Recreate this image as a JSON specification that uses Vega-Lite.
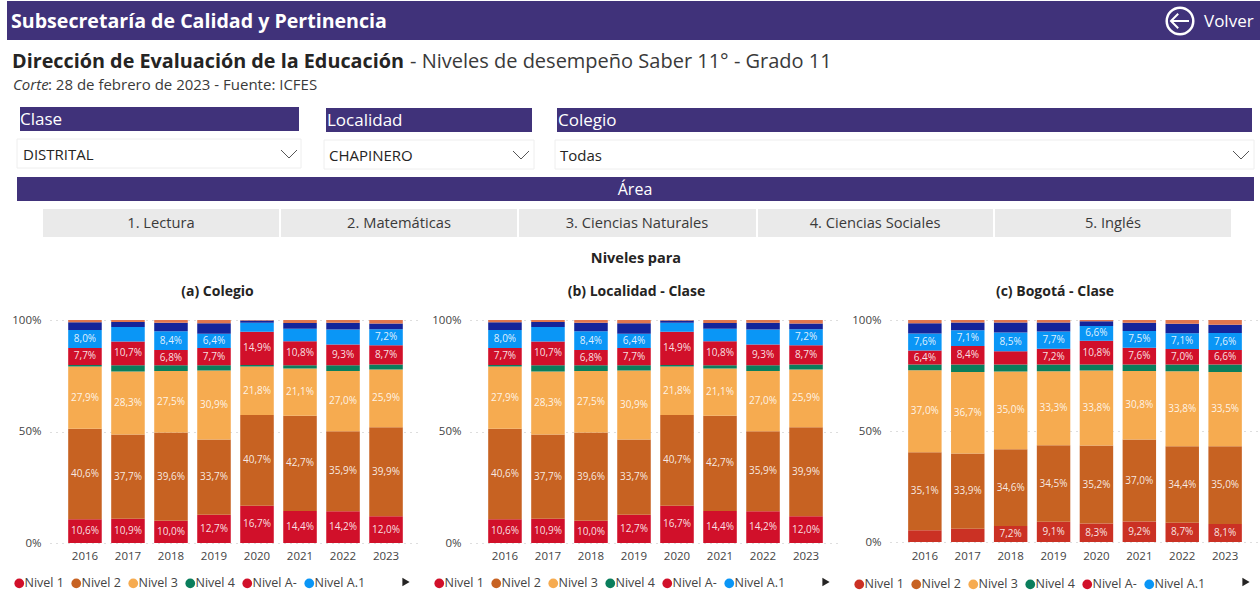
{
"$schema":"https://vega.github.io/schema/vega-lite/v6.json",
"padding":0,
"background":"white",
"bounds":"flush",
"spacing":0,
"config":{"view":{"stroke":null},"font":"Open Sans","concat":{"spacing":0}},
"datasets":{
"colegio":[
{"anio":"2016","nivel":"Nivel 1","valor":10.6,"etiqueta":"10,6%"},{"anio":"2016","nivel":"Nivel 2","valor":40.6,"etiqueta":"40,6%"},{"anio":"2016","nivel":"Nivel 3","valor":27.9,"etiqueta":"27,9%"},{"anio":"2016","nivel":"Nivel 4","valor":0.7,"etiqueta":""},{"anio":"2016","nivel":"Nivel A-","valor":7.7,"etiqueta":"7,7%"},{"anio":"2016","nivel":"Nivel A.1","valor":8.0,"etiqueta":"8,0%"},{"anio":"2016","nivel":"Nivel A.2","valor":3.5,"etiqueta":""},{"anio":"2016","nivel":"Nivel B.1","valor":1.0,"etiqueta":""},
{"anio":"2017","nivel":"Nivel 1","valor":10.9,"etiqueta":"10,9%"},{"anio":"2017","nivel":"Nivel 2","valor":37.7,"etiqueta":"37,7%"},{"anio":"2017","nivel":"Nivel 3","valor":28.3,"etiqueta":"28,3%"},{"anio":"2017","nivel":"Nivel 4","valor":2.8,"etiqueta":""},{"anio":"2017","nivel":"Nivel A-","valor":10.7,"etiqueta":"10,7%"},{"anio":"2017","nivel":"Nivel A.1","valor":6.5,"etiqueta":""},{"anio":"2017","nivel":"Nivel A.2","valor":2.2,"etiqueta":""},{"anio":"2017","nivel":"Nivel B.1","valor":0.9,"etiqueta":""},
{"anio":"2018","nivel":"Nivel 1","valor":10.0,"etiqueta":"10,0%"},{"anio":"2018","nivel":"Nivel 2","valor":39.6,"etiqueta":"39,6%"},{"anio":"2018","nivel":"Nivel 3","valor":27.5,"etiqueta":"27,5%"},{"anio":"2018","nivel":"Nivel 4","valor":2.6,"etiqueta":""},{"anio":"2018","nivel":"Nivel A-","valor":6.8,"etiqueta":"6,8%"},{"anio":"2018","nivel":"Nivel A.1","valor":8.4,"etiqueta":"8,4%"},{"anio":"2018","nivel":"Nivel A.2","valor":3.9,"etiqueta":""},{"anio":"2018","nivel":"Nivel B.1","valor":1.2,"etiqueta":""},
{"anio":"2019","nivel":"Nivel 1","valor":12.7,"etiqueta":"12,7%"},{"anio":"2019","nivel":"Nivel 2","valor":33.7,"etiqueta":"33,7%"},{"anio":"2019","nivel":"Nivel 3","valor":30.9,"etiqueta":"30,9%"},{"anio":"2019","nivel":"Nivel 4","valor":2.4,"etiqueta":""},{"anio":"2019","nivel":"Nivel A-","valor":7.7,"etiqueta":"7,7%"},{"anio":"2019","nivel":"Nivel A.1","valor":6.4,"etiqueta":"6,4%"},{"anio":"2019","nivel":"Nivel A.2","valor":4.7,"etiqueta":""},{"anio":"2019","nivel":"Nivel B.1","valor":1.5,"etiqueta":""},
{"anio":"2020","nivel":"Nivel 1","valor":16.7,"etiqueta":"16,7%"},{"anio":"2020","nivel":"Nivel 2","valor":40.7,"etiqueta":"40,7%"},{"anio":"2020","nivel":"Nivel 3","valor":21.8,"etiqueta":"21,8%"},{"anio":"2020","nivel":"Nivel 4","valor":0.6,"etiqueta":""},{"anio":"2020","nivel":"Nivel A-","valor":14.9,"etiqueta":"14,9%"},{"anio":"2020","nivel":"Nivel A.1","valor":4.1,"etiqueta":""},{"anio":"2020","nivel":"Nivel A.2","valor":1.0,"etiqueta":""},{"anio":"2020","nivel":"Nivel B.1","valor":0.2,"etiqueta":""},
{"anio":"2021","nivel":"Nivel 1","valor":14.4,"etiqueta":"14,4%"},{"anio":"2021","nivel":"Nivel 2","valor":42.7,"etiqueta":"42,7%"},{"anio":"2021","nivel":"Nivel 3","valor":21.1,"etiqueta":"21,1%"},{"anio":"2021","nivel":"Nivel 4","valor":1.5,"etiqueta":""},{"anio":"2021","nivel":"Nivel A-","valor":10.8,"etiqueta":"10,8%"},{"anio":"2021","nivel":"Nivel A.1","valor":5.6,"etiqueta":""},{"anio":"2021","nivel":"Nivel A.2","valor":2.6,"etiqueta":""},{"anio":"2021","nivel":"Nivel B.1","valor":1.3,"etiqueta":""},
{"anio":"2022","nivel":"Nivel 1","valor":14.2,"etiqueta":"14,2%"},{"anio":"2022","nivel":"Nivel 2","valor":35.9,"etiqueta":"35,9%"},{"anio":"2022","nivel":"Nivel 3","valor":27.0,"etiqueta":"27,0%"},{"anio":"2022","nivel":"Nivel 4","valor":2.6,"etiqueta":""},{"anio":"2022","nivel":"Nivel A-","valor":9.3,"etiqueta":"9,3%"},{"anio":"2022","nivel":"Nivel A.1","valor":6.7,"etiqueta":""},{"anio":"2022","nivel":"Nivel A.2","valor":3.1,"etiqueta":""},{"anio":"2022","nivel":"Nivel B.1","valor":1.2,"etiqueta":""},
{"anio":"2023","nivel":"Nivel 1","valor":12.0,"etiqueta":"12,0%"},{"anio":"2023","nivel":"Nivel 2","valor":39.9,"etiqueta":"39,9%"},{"anio":"2023","nivel":"Nivel 3","valor":25.9,"etiqueta":"25,9%"},{"anio":"2023","nivel":"Nivel 4","valor":2.2,"etiqueta":""},{"anio":"2023","nivel":"Nivel A-","valor":8.7,"etiqueta":"8,7%"},{"anio":"2023","nivel":"Nivel A.1","valor":7.2,"etiqueta":"7,2%"},{"anio":"2023","nivel":"Nivel A.2","valor":2.5,"etiqueta":""},{"anio":"2023","nivel":"Nivel B.1","valor":1.6,"etiqueta":""}
],
"bogota":[
{"anio":"2016","nivel":"Nivel 1","valor":5.3,"etiqueta":""},{"anio":"2016","nivel":"Nivel 2","valor":35.1,"etiqueta":"35,1%"},{"anio":"2016","nivel":"Nivel 3","valor":37.0,"etiqueta":"37,0%"},{"anio":"2016","nivel":"Nivel 4","valor":2.5,"etiqueta":""},{"anio":"2016","nivel":"Nivel A-","valor":6.4,"etiqueta":"6,4%"},{"anio":"2016","nivel":"Nivel A.1","valor":7.6,"etiqueta":"7,6%"},{"anio":"2016","nivel":"Nivel A.2","valor":4.6,"etiqueta":""},{"anio":"2016","nivel":"Nivel B.1","valor":1.5,"etiqueta":""},
{"anio":"2017","nivel":"Nivel 1","valor":6.0,"etiqueta":""},{"anio":"2017","nivel":"Nivel 2","valor":33.9,"etiqueta":"33,9%"},{"anio":"2017","nivel":"Nivel 3","valor":36.7,"etiqueta":"36,7%"},{"anio":"2017","nivel":"Nivel 4","valor":3.3,"etiqueta":""},{"anio":"2017","nivel":"Nivel A-","valor":8.4,"etiqueta":"8,4%"},{"anio":"2017","nivel":"Nivel A.1","valor":7.1,"etiqueta":"7,1%"},{"anio":"2017","nivel":"Nivel A.2","valor":3.5,"etiqueta":""},{"anio":"2017","nivel":"Nivel B.1","valor":1.1,"etiqueta":""},
{"anio":"2018","nivel":"Nivel 1","valor":7.2,"etiqueta":"7,2%"},{"anio":"2018","nivel":"Nivel 2","valor":34.6,"etiqueta":"34,6%"},{"anio":"2018","nivel":"Nivel 3","valor":35.0,"etiqueta":"35,0%"},{"anio":"2018","nivel":"Nivel 4","valor":3.1,"etiqueta":""},{"anio":"2018","nivel":"Nivel A-","valor":6.0,"etiqueta":""},{"anio":"2018","nivel":"Nivel A.1","valor":8.5,"etiqueta":"8,5%"},{"anio":"2018","nivel":"Nivel A.2","valor":4.5,"etiqueta":""},{"anio":"2018","nivel":"Nivel B.1","valor":1.1,"etiqueta":""},
{"anio":"2019","nivel":"Nivel 1","valor":9.1,"etiqueta":"9,1%"},{"anio":"2019","nivel":"Nivel 2","valor":34.5,"etiqueta":"34,5%"},{"anio":"2019","nivel":"Nivel 3","valor":33.3,"etiqueta":"33,3%"},{"anio":"2019","nivel":"Nivel 4","valor":3.0,"etiqueta":""},{"anio":"2019","nivel":"Nivel A-","valor":7.2,"etiqueta":"7,2%"},{"anio":"2019","nivel":"Nivel A.1","valor":7.7,"etiqueta":"7,7%"},{"anio":"2019","nivel":"Nivel A.2","valor":4.1,"etiqueta":""},{"anio":"2019","nivel":"Nivel B.1","valor":1.1,"etiqueta":""},
{"anio":"2020","nivel":"Nivel 1","valor":8.3,"etiqueta":"8,3%"},{"anio":"2020","nivel":"Nivel 2","valor":35.2,"etiqueta":"35,2%"},{"anio":"2020","nivel":"Nivel 3","valor":33.8,"etiqueta":"33,8%"},{"anio":"2020","nivel":"Nivel 4","valor":2.6,"etiqueta":""},{"anio":"2020","nivel":"Nivel A-","valor":10.8,"etiqueta":"10,8%"},{"anio":"2020","nivel":"Nivel A.1","valor":6.6,"etiqueta":"6,6%"},{"anio":"2020","nivel":"Nivel A.2","valor":2.1,"etiqueta":""},{"anio":"2020","nivel":"Nivel B.1","valor":0.6,"etiqueta":""},
{"anio":"2021","nivel":"Nivel 1","valor":9.2,"etiqueta":"9,2%"},{"anio":"2021","nivel":"Nivel 2","valor":37.0,"etiqueta":"37,0%"},{"anio":"2021","nivel":"Nivel 3","valor":30.8,"etiqueta":"30,8%"},{"anio":"2021","nivel":"Nivel 4","valor":2.9,"etiqueta":""},{"anio":"2021","nivel":"Nivel A-","valor":7.6,"etiqueta":"7,6%"},{"anio":"2021","nivel":"Nivel A.1","valor":7.5,"etiqueta":"7,5%"},{"anio":"2021","nivel":"Nivel A.2","valor":3.8,"etiqueta":""},{"anio":"2021","nivel":"Nivel B.1","valor":1.2,"etiqueta":""},
{"anio":"2022","nivel":"Nivel 1","valor":8.7,"etiqueta":"8,7%"},{"anio":"2022","nivel":"Nivel 2","valor":34.4,"etiqueta":"34,4%"},{"anio":"2022","nivel":"Nivel 3","valor":33.8,"etiqueta":"33,8%"},{"anio":"2022","nivel":"Nivel 4","valor":3.0,"etiqueta":""},{"anio":"2022","nivel":"Nivel A-","valor":7.0,"etiqueta":"7,0%"},{"anio":"2022","nivel":"Nivel A.1","valor":7.1,"etiqueta":"7,1%"},{"anio":"2022","nivel":"Nivel A.2","valor":4.3,"etiqueta":""},{"anio":"2022","nivel":"Nivel B.1","valor":1.7,"etiqueta":""},
{"anio":"2023","nivel":"Nivel 1","valor":8.1,"etiqueta":"8,1%"},{"anio":"2023","nivel":"Nivel 2","valor":35.0,"etiqueta":"35,0%"},{"anio":"2023","nivel":"Nivel 3","valor":33.5,"etiqueta":"33,5%"},{"anio":"2023","nivel":"Nivel 4","valor":3.3,"etiqueta":""},{"anio":"2023","nivel":"Nivel A-","valor":6.6,"etiqueta":"6,6%"},{"anio":"2023","nivel":"Nivel A.1","valor":7.6,"etiqueta":"7,6%"},{"anio":"2023","nivel":"Nivel A.2","valor":3.8,"etiqueta":""},{"anio":"2023","nivel":"Nivel B.1","valor":2.1,"etiqueta":""}
]
},
"vconcat":[
{
"width":1260,"height":320,
"encoding":{
"x":{"field":"x","type":"quantitative","scale":{"domain":[0,1260],"nice":false,"zero":false},"axis":null},
"y":{"field":"y","type":"quantitative","scale":{"domain":[0,320],"nice":false,"zero":false,"reverse":true},"axis":null},
"text":{"field":"t"}
},
"layer":[
{"data":{"values":[{"x":7,"x2":1260,"y":1,"y2":40},{"x":20,"x2":299,"y":107,"y2":131},{"x":326,"x2":532,"y":108,"y2":132},{"x":557,"x2":1252,"y":108,"y2":132},{"x":17,"x2":1254,"y":177,"y2":201}]},
 "mark":{"type":"rect","fill":"#40327A"},"encoding":{"x2":{"field":"x2"},"y2":{"field":"y2"},"text":{"value":""}}},
{"data":{"values":[{"x":17,"x2":301,"y":139,"y2":168},{"x":324,"x2":534,"y":140,"y2":169},{"x":555,"x2":1254,"y":140,"y2":169}]},
 "mark":{"type":"rect","fill":"white","stroke":"#EEEEEE","strokeWidth":1},"encoding":{"x2":{"field":"x2"},"y2":{"field":"y2"},"text":{"value":""}}},
{"data":{"values":[{"x":43,"x2":279,"y":209,"y2":237},{"x":281,"x2":517,"y":209,"y2":237},{"x":519,"x2":756,"y":209,"y2":237},{"x":758,"x2":993,"y":209,"y2":237},{"x":995,"x2":1231,"y":209,"y2":237}]},
 "mark":{"type":"rect","fill":"#EAEAEA"},"encoding":{"x2":{"field":"x2"},"y2":{"field":"y2"},"text":{"value":""}}},
{"data":{"values":[{"x":11,"y":22,"t":"Subsecretaría de Calidad y Pertinencia"}]},
 "mark":{"type":"text","align":"left","baseline":"middle","fontSize":19.6,"fontWeight":"bold","fill":"white"}},
{"data":{"values":[{"x":12,"y":62,"t":"Dirección de Evaluación de la Educación"}]},
 "mark":{"type":"text","align":"left","baseline":"middle","fontSize":19.8,"fontWeight":"bold","fill":"#252423"}},
{"data":{"values":[{"x":410,"y":62,"t":"- Niveles de desempeño Saber 11° - Grado 11"}]},
 "mark":{"type":"text","align":"left","baseline":"middle","fontSize":20,"fill":"#3A3A3A"}},
{"data":{"values":[{"x":13,"y":85,"t":"Corte"}]},
 "mark":{"type":"text","align":"left","baseline":"middle","fontSize":15,"fontStyle":"italic","fill":"#3A3A3A"}},
{"data":{"values":[{"x":48,"y":85,"t":": 28 de febrero de 2023 - Fuente: ICFES"}]},
 "mark":{"type":"text","align":"left","baseline":"middle","fontSize":15,"fill":"#3A3A3A"}},
{"data":{"values":[{"x":20,"y":120,"t":"Clase"},{"x":327,"y":121,"t":"Localidad"},{"x":558,"y":121,"t":"Colegio"}]},
 "mark":{"type":"text","align":"left","baseline":"middle","fontSize":17,"fill":"white"}},
{"data":{"values":[{"x":635,"y":190,"t":"Área"}]},
 "mark":{"type":"text","align":"center","baseline":"middle","fontSize":16,"fill":"white"}},
{"data":{"values":[{"x":1204,"y":22,"t":"Volver"}]},
 "mark":{"type":"text","align":"left","baseline":"middle","fontSize":17,"fill":"white"}},
{"data":{"values":[{"x":23,"y":155,"t":"DISTRITAL"},{"x":329,"y":156,"t":"CHAPINERO"},{"x":560,"y":156,"t":"Todas"}]},
 "mark":{"type":"text","align":"left","baseline":"middle","fontSize":15,"fill":"#252423"}},
{"data":{"values":[{"x":161,"y":224,"t":"1. Lectura"},{"x":399,"y":224,"t":"2. Matemáticas"},{"x":637,"y":224,"t":"3. Ciencias Naturales"},{"x":875,"y":224,"t":"4. Ciencias Sociales"},{"x":1113,"y":224,"t":"5. Inglés"}]},
 "mark":{"type":"text","align":"center","baseline":"middle","fontSize":14.7,"fill":"#3A3A3A"}},
{"data":{"values":[{"x":636,"y":259,"t":"Niveles para"}]},
 "mark":{"type":"text","align":"center","baseline":"middle","fontSize":14.5,"fontWeight":"bold","fill":"#252423"}},
{"data":{"values":[{"x":289,"y":154},{"x":521,"y":155},{"x":1241,"y":155}]},
 "mark":{"type":"point","shape":"M-1,-0.5L0,0.5L1,-0.5","size":256,"filled":false,"stroke":"#555555","strokeWidth":1,"opacity":1},"encoding":{"text":{"value":""}}},
{"data":{"values":[{"x":1180,"y":21}]},
 "mark":{"type":"point","shape":"circle","size":707,"filled":false,"stroke":"white","strokeWidth":2.5,"opacity":1},"encoding":{"text":{"value":""}}},
{"data":{"values":[{"x":1180,"y":21}]},
 "mark":{"type":"point","shape":"M1,0L-1,0M-0.2,-0.8L-1,0L-0.2,0.8","size":324,"filled":false,"stroke":"white","strokeWidth":2,"opacity":1},"encoding":{"text":{"value":""}}},
{"data":{"values":[{"x":406,"y":582},{"x":826,"y":582},{"x":1246,"y":582}]},
 "mark":{"type":"point","shape":"triangle-right","size":70,"filled":true,"fill":"#252423","opacity":1},"encoding":{"text":{"value":""}}}
]
},
{
"bounds":"flush",
"spacing":49,
"resolve":{"scale":{"color":"independent"},"legend":{"color":"independent"}},
"hconcat":[
{"width":1,"height":1,"data":{"values":[{"x":0}]},"mark":{"type":"point","opacity":0,"size":0,"strokeWidth":0},"encoding":{"x":{"field":"x","type":"quantitative","axis":null}}},
{
"width":371,"height":223,
"data":{"name":"colegio"},
"title":{"text":"(a) Colegio","anchor":"middle","dx":-18,"offset":15,"fontSize":14,"fontWeight":"bold","color":"#252423"},
"encoding":{
"x":{"field":"anio","type":"ordinal","scale":{"paddingInner":0.22,"paddingOuter":0.423},"axis":{"title":null,"labelAngle":0,"domain":false,"ticks":false,"labelFontSize":11.5,"labelColor":"#444444","labelPadding":7}},
"y":{"field":"valor","type":"quantitative","stack":"zero","scale":{"domain":[0,100],"nice":false},"axis":{"title":null,"values":[0,50,100],"labelExpr":"datum.value + '%'","domain":false,"ticks":false,"labelFontSize":11.5,"labelColor":"#444444","labelPadding":9,"grid":true,"gridDash":[1,5],"gridColor":"#BDBDBD"}},
"order":{"field":"nivel"}
},
"layer":[
{"mark":{"type":"bar"},"encoding":{"color":{"field":"nivel","type":"nominal","scale":{"domain":["Nivel 1","Nivel 2","Nivel 3","Nivel 4","Nivel A-","Nivel A.1","Nivel A.2","Nivel B.1"],"range":["#D1102A","#C76222","#F6AB50","#0A7E5C","#D1102A","#0A96F6","#14249A","#E0764E"]},"legend":{"title":null,"values":["Nivel 1","Nivel 2","Nivel 3","Nivel 4","Nivel A-","Nivel A.1"],"orient":"none","legendX":-37,"legendY":257,"direction":"horizontal","columns":6,"columnPadding":6,"symbolType":"circle","symbolSize":95,"symbolStrokeWidth":0,"labelFontSize":12.5,"labelColor":"#444444","labelOffset":-1}}}},
{"mark":{"type":"text","fill":"white","fillOpacity":0.88,"fontSize":10},"encoding":{"y":{"field":"valor","type":"quantitative","stack":"zero","bandPosition":0.5},"text":{"field":"etiqueta"}}}
]
},
{
"width":371,"height":223,
"data":{"name":"colegio"},
"title":{"text":"(b) Localidad - Clase","anchor":"middle","dx":-19,"offset":15,"fontSize":14,"fontWeight":"bold","color":"#252423"},
"encoding":{
"x":{"field":"anio","type":"ordinal","scale":{"paddingInner":0.22,"paddingOuter":0.423},"axis":{"title":null,"labelAngle":0,"domain":false,"ticks":false,"labelFontSize":11.5,"labelColor":"#444444","labelPadding":7}},
"y":{"field":"valor","type":"quantitative","stack":"zero","scale":{"domain":[0,100],"nice":false},"axis":{"title":null,"values":[0,50,100],"labelExpr":"datum.value + '%'","domain":false,"ticks":false,"labelFontSize":11.5,"labelColor":"#444444","labelPadding":9,"grid":true,"gridDash":[1,5],"gridColor":"#BDBDBD"}},
"order":{"field":"nivel"}
},
"layer":[
{"mark":{"type":"bar"},"encoding":{"color":{"field":"nivel","type":"nominal","scale":{"domain":["Nivel 1","Nivel 2","Nivel 3","Nivel 4","Nivel A-","Nivel A.1","Nivel A.2","Nivel B.1"],"range":["#D1102A","#C76222","#F6AB50","#0A7E5C","#D1102A","#0A96F6","#14249A","#E0764E"]},"legend":{"title":null,"values":["Nivel 1","Nivel 2","Nivel 3","Nivel 4","Nivel A-","Nivel A.1"],"orient":"none","legendX":-37,"legendY":257,"direction":"horizontal","columns":6,"columnPadding":6,"symbolType":"circle","symbolSize":95,"symbolStrokeWidth":0,"labelFontSize":12.5,"labelColor":"#444444","labelOffset":-1}}}},
{"mark":{"type":"text","fill":"white","fillOpacity":0.88,"fontSize":10},"encoding":{"y":{"field":"valor","type":"quantitative","stack":"zero","bandPosition":0.5},"text":{"field":"etiqueta"}}}
]
},
{
"width":370,"height":222,
"data":{"name":"bogota"},
"title":{"text":"(c) Bogotá - Clase","anchor":"middle","dx":-20,"offset":15,"fontSize":14,"fontWeight":"bold","color":"#252423"},
"encoding":{
"x":{"field":"anio","type":"ordinal","scale":{"paddingInner":0.22,"paddingOuter":0.423},"axis":{"title":null,"labelAngle":0,"domain":false,"ticks":false,"labelFontSize":11.5,"labelColor":"#444444","labelPadding":8}},
"y":{"field":"valor","type":"quantitative","stack":"zero","scale":{"domain":[0,100],"nice":false},"axis":{"title":null,"values":[0,50,100],"labelExpr":"datum.value + '%'","domain":false,"ticks":false,"labelFontSize":11.5,"labelColor":"#444444","labelPadding":9,"grid":true,"gridDash":[1,5],"gridColor":"#BDBDBD"}},
"order":{"field":"nivel"}
},
"layer":[
{"mark":{"type":"bar"},"encoding":{"color":{"field":"nivel","type":"nominal","scale":{"domain":["Nivel 1","Nivel 2","Nivel 3","Nivel 4","Nivel A-","Nivel A.1","Nivel A.2","Nivel B.1"],"range":["#CB3124","#C76222","#F6AB50","#0A7E5C","#D1102A","#0A96F6","#14249A","#E0764E"]},"legend":{"title":null,"values":["Nivel 1","Nivel 2","Nivel 3","Nivel 4","Nivel A-","Nivel A.1"],"orient":"none","legendX":-37,"legendY":258,"direction":"horizontal","columns":6,"columnPadding":6,"symbolType":"circle","symbolSize":95,"symbolStrokeWidth":0,"labelFontSize":12.5,"labelColor":"#444444","labelOffset":-1}}}},
{"mark":{"type":"text","fill":"white","fillOpacity":0.88,"fontSize":10},"encoding":{"y":{"field":"valor","type":"quantitative","stack":"zero","bandPosition":0.5},"text":{"field":"etiqueta"}}}
]
}
]
}
]
}
